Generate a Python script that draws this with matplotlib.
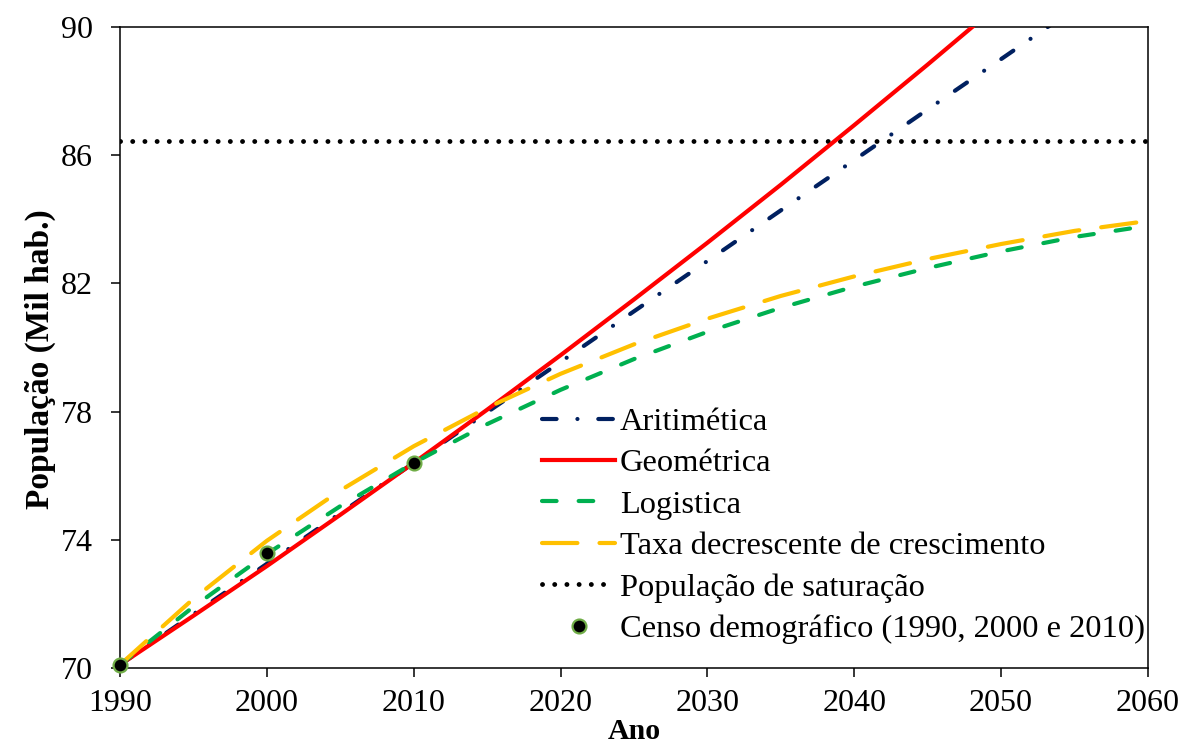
import matplotlib
matplotlib.use("Agg")
import matplotlib.pyplot as plt

plt.rcParams['font.family'] = ['Liberation Serif', 'DejaVu Serif']

# values (thousand inhabitants), every 5 years
anos = [1990, 1995, 2000, 2005, 2010, 2015, 2020, 2025, 2030,
        2035, 2040, 2045, 2050, 2055, 2060]
aritmetica = [70.10, 71.68, 73.25, 74.83, 76.40, 77.98, 79.55, 81.13, 82.70,
              84.28, 85.85, 87.43, 89.00, 90.58, 92.15]
geometrica = [70.10, 71.63, 73.18, 74.78, 76.40, 78.06, 79.76, 81.50, 83.27,
              85.08, 86.94, 88.83, 90.76, 92.74, 94.75]
logistica = [70.10, 71.91, 73.56, 75.05, 76.40, 77.61, 78.68, 79.64, 80.49,
             81.24, 81.90, 82.48, 83.00, 83.45, 83.80]
taxa_decr = [70.10, 72.16, 73.97, 75.54, 76.92, 78.12, 79.18, 80.10, 80.90,
             81.61, 82.22, 82.76, 83.23, 83.64, 83.95]
saturacao = 86.45

censo_anos = [1990, 2000, 2010]
censo_pop = [70.1, 73.6, 76.4]

fig = plt.figure(figsize=(11.83, 7.43), dpi=100)
ax = fig.add_axes([0.1014, 0.1009, 0.869, 0.8627])

lw = 3.0
ax.plot(anos, aritmetica, color='#002060', lw=lw, dashes=(3.5, 5, 0.01, 5),
        dash_capstyle='round', label='Aritimética', zorder=2)
ax.plot(anos, geometrica, color='#FF0000', lw=lw, label='Geométrica', zorder=3)
ax.plot(anos, logistica, color='#00B050', lw=lw, dashes=(3.5, 5.3),
        dash_capstyle='round', label='Logistica', zorder=4)
ax.plot(anos, taxa_decr, color='#FFC000', lw=lw, dashes=(8.5, 5.3),
        dash_capstyle='round', label='Taxa decrescente de crescimento', zorder=4)
ax.plot([anos[0], anos[-1]], [saturacao, saturacao], color='black', lw=3.5,
        dashes=(0.01, 2.5), dash_capstyle='round',
        label='População de saturação', zorder=2)
ax.plot(censo_anos, censo_pop, 'o', color='black', markersize=10,
        markeredgecolor='#70AD47', markeredgewidth=1.6,
        label='Censo demográfico (1990, 2000 e 2010)', zorder=5, clip_on=False)

ax.set_xlim(1990, 2060)
ax.set_ylim(70, 90)
ax.set_xticks(range(1990, 2061, 10))
ax.set_yticks([70, 74, 78, 82, 86, 90])
ax.tick_params(direction='out', length=6.5, width=1.1, labelsize=23)
ax.tick_params(axis='x', pad=8.5)
ax.tick_params(axis='y', pad=13)
for s in ax.spines.values():
    s.set_linewidth(1.1)

ax.set_xlabel('Ano', fontsize=21.5, fontweight='bold')
ax.xaxis.set_label_coords(0.5, -0.078)
ax.set_ylabel('População (Mil hab.)', fontsize=24, fontweight='bold')
ax.yaxis.set_label_coords(-0.062, 0.482)

ax.legend(loc='upper left', bbox_to_anchor=(0.4105, 0.407), frameon=False,
          fontsize=23.4, handlelength=2.25, handletextpad=0.15,
          labelspacing=0.36, borderpad=0, borderaxespad=0)

fig.savefig('out.png', dpi=100)
